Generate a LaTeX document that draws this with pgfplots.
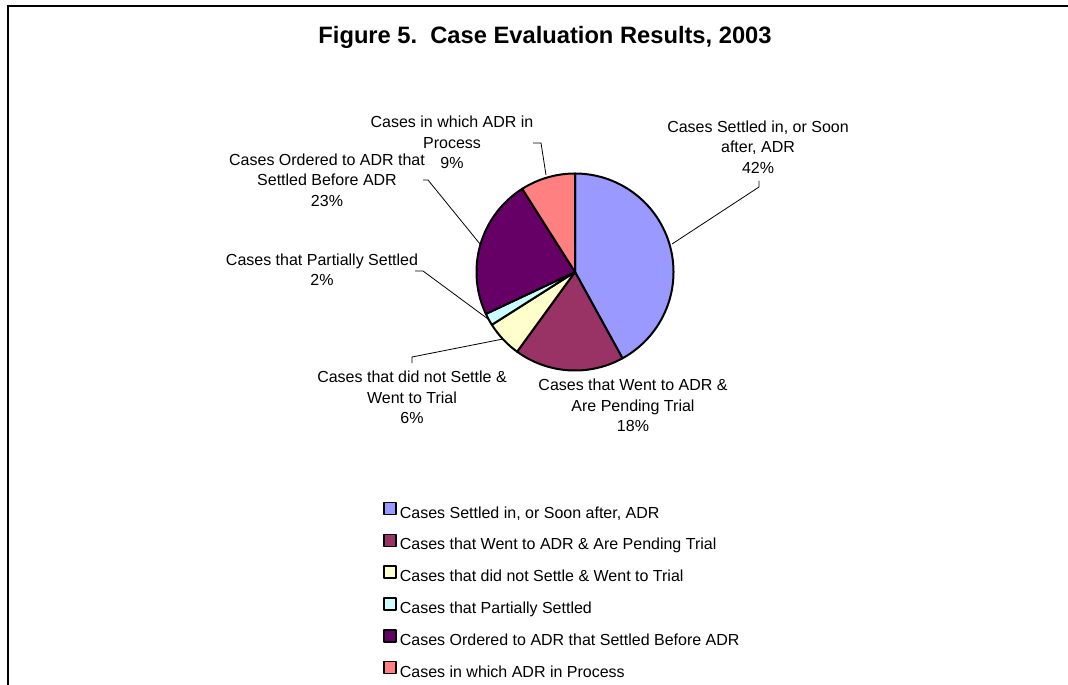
\documentclass[border=0pt]{standalone}
\usepackage{fontspec}
\setmainfont{Liberation Sans}
\usepackage{pgfplots}
\pgfplotsset{compat=1.18}

\definecolor{cSettled}{HTML}{9999FF}
\definecolor{cPending}{HTML}{993366}
\definecolor{cTrial}{HTML}{FFFFCC}
\definecolor{cPartial}{HTML}{CCFFFF}
\definecolor{cOrdered}{HTML}{660066}
\definecolor{cProcess}{HTML}{FF8080}

% pie geometry in picture pixels (y grows downwards)
\def\cx{575}
\def\cy{272}
\def\rr{98.5}
\gdef\pstart{0}

% one wedge per value (percent), clockwise from 12 o'clock
\newcommand{\pieslice}[3]{%
  \pgfmathsetmacro{\pend}{\pstart+#1}%
  \edef\doslice{\noexpand\addplot[draw=black, line width=2bp, line join=round,
      fill=#2, domain=\pstart*3.6:\pend*3.6, samples=90, variable=\noexpand\t]
    ({\cx+\rr*sin(\noexpand\t)},{\cy-\rr*cos(\noexpand\t)}) -- (\cx,\cy) -- cycle;}%
  \doslice
  \addlegendentry{#3}%
  \global\let\pstart\pend}

\newcommand{\lbl}{\fontsize{16bp}{20.5bp}\selectfont}

\begin{document}
\begin{tikzpicture}
\begin{axis}[
  scale only axis,
  width=1068bp, height=685bp,
  xmin=0, xmax=1068, ymin=0, ymax=685,
  y dir=reverse,
  hide axis,
  clip=false,
  legend style={at={(axis cs:383,501.5)}, anchor=north west,
    draw=none, fill=none, inner sep=0pt,
    font=\lbl, row sep=12.5bp, column sep=3bp,
    nodes={inner sep=0pt, text height=12bp, text depth=3bp}},
  legend cell align=left,
  legend image code/.code={\draw[#1, line width=1.6bp] (0bp,-1bp) rectangle (12bp,11bp);},
]
\pieslice{42}{cSettled}{Cases Settled in, or Soon after, ADR}
\pieslice{18}{cPending}{Cases that Went to ADR \& Are Pending Trial}
\pieslice{6}{cTrial}{Cases that did not Settle \& Went to Trial}
\pieslice{2}{cPartial}{Cases that Partially Settled}
\pieslice{23}{cOrdered}{Cases Ordered to ADR that Settled Before ADR}
\pieslice{9}{cProcess}{Cases in which ADR in Process}

% frame
\draw[line width=2bp] (8,685) -- (8,6) -- (1068,6);

% title
\node[font=\fontsize{23.7bp}{28bp}\selectfont\bfseries] at (545,37)
  {Figure 5.\ \ Case Evaluation Results, 2003};

% data labels
\node[align=center, font=\lbl] at (758,147) {Cases Settled in, or Soon\\after, ADR\\42\%};
\node[align=center, font=\lbl] at (633,405.7) {Cases that Went to ADR \&\\Are Pending Trial\\18\%};
\node[align=center, font=\lbl] at (412,397.7) {Cases that did not Settle \&\\Went to Trial\\6\%};
\node[align=center, font=\lbl] at (322,269.7) {Cases that Partially Settled\\2\%};
\node[align=center, font=\lbl] at (327,180) {Cases Ordered to ADR that\\Settled Before ADR\\23\%};
\node[align=center, font=\lbl] at (452,142.7) {Cases in which ADR in\\Process\\9\%};

% leader lines
\draw[line width=0.8bp] (759,181) -- (759,187) -- (672,244);
\draw[line width=0.8bp] (412,363) -- (412,357) -- (503,339);
\draw[line width=0.8bp] (415,271) -- (423,271) -- (488,319);
\draw[line width=0.8bp] (423,180) -- (428,180) -- (480,244);
\draw[line width=0.8bp] (533,143) -- (541,143) -- (546,175);
\end{axis}
\pgfresetboundingbox
\path[use as bounding box] (current axis.south west) rectangle (current axis.north east);
\end{tikzpicture}
\end{document}
